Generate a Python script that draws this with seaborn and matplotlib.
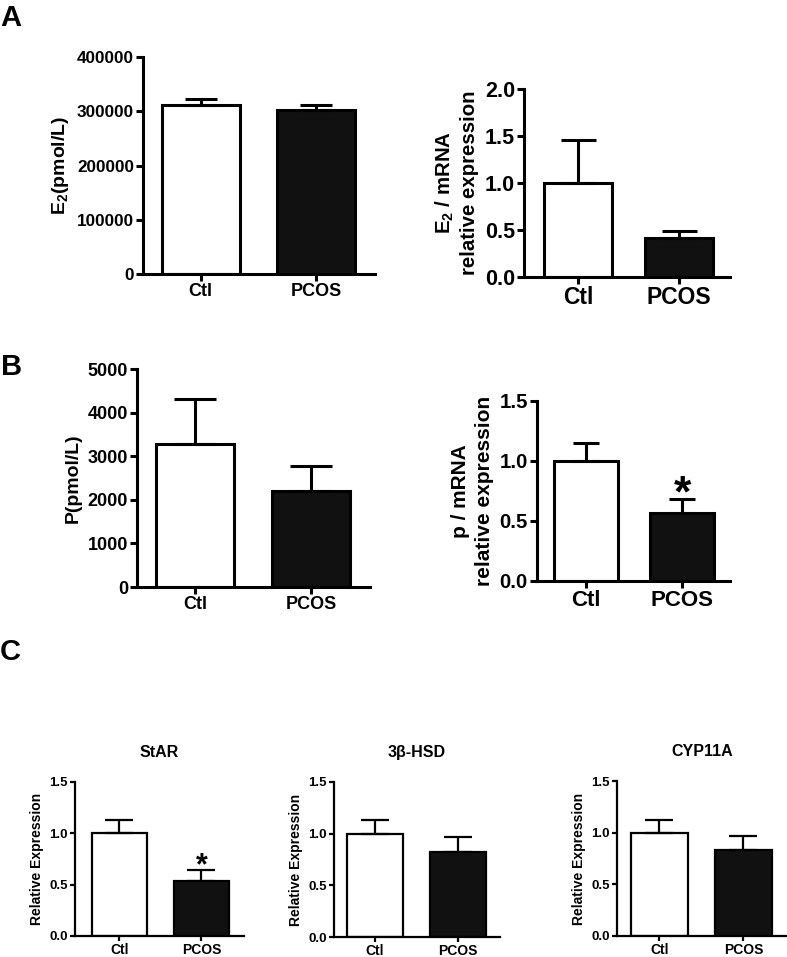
import matplotlib
matplotlib.use("Agg")
import matplotlib.pyplot as plt
import seaborn as sns
import numpy as np

# ---------------- data ----------------
groups = ["Ctl", "PCOS"]

e2_conc = [311000, 303000]
e2_conc_err = [11500, 9000]

e2_mrna = [1.0, 0.41]
e2_mrna_err = [0.46, 0.08]

p_conc = [3280, 2210]
p_conc_err = [1040, 560]

p_mrna = [1.0, 0.57]
p_mrna_err = [0.15, 0.11]

star_vals = [1.0, 0.54]
star_err = [0.13, 0.10]

hsd_vals = [1.0, 0.82]
hsd_err = [0.13, 0.15]

cyp_vals = [1.0, 0.83]
cyp_err = [0.12, 0.14]

# ---------------- style ----------------
sns.set_theme(style="ticks")
plt.rcParams["font.family"] = ["Liberation Sans", "DejaVu Sans"]
plt.rcParams["font.weight"] = "bold"
plt.rcParams["axes.labelweight"] = "bold"
plt.rcParams["text.color"] = "black"
plt.rcParams["axes.labelcolor"] = "black"
plt.rcParams["xtick.color"] = "black"
plt.rcParams["ytick.color"] = "black"
plt.rcParams["xtick.labelcolor"] = "black"
plt.rcParams["ytick.labelcolor"] = "black"
plt.rcParams["mathtext.fontset"] = "custom"
plt.rcParams["mathtext.rm"] = "Liberation Sans:bold"
plt.rcParams["mathtext.it"] = "Liberation Sans:bold"
plt.rcParams["mathtext.bf"] = "Liberation Sans:bold"
plt.rcParams["mathtext.default"] = "rm"

W, H = 787, 957
fig = plt.figure(figsize=(W / 100, H / 100), dpi=100)
fig.patch.set_facecolor("white")


def px_axes(x0, x1, y0, y1):
    return fig.add_axes([x0 / W, 1 - y1 / H, (x1 - x0) / W, (y1 - y0) / H])


def panel(ax, vals, errs, ymax, ystep, xlim, fmt, lw, tick_fs, xtick_fs,
          ylabel, ylabel_fs, capsize, ticklen, labelpad, linespacing=1.2,
          star=None):
    sns.barplot(x=groups, y=vals, hue=groups, palette=["white", "#111111"],
                edgecolor="black", linewidth=lw, width=0.675, errorbar=None,
                legend=False, ax=ax, saturation=1)
    xs = np.arange(len(groups))
    ax.errorbar(xs, vals, yerr=[np.zeros(len(vals)), errs], fmt="none",
                ecolor="black", elinewidth=lw, capsize=capsize, capthick=lw,
                zorder=1, clip_on=False)
    ax.set_ylim(0, ymax)
    ax.set_xlim(*xlim)
    ticks = np.arange(0, ymax + ystep / 2, ystep)
    ax.set_yticks(ticks)
    ax.set_yticklabels([fmt.format(t) for t in ticks], fontsize=tick_fs,
                       fontweight="bold", color="black")
    ax.set_xticks(xs)
    ax.set_xticklabels(groups, fontsize=xtick_fs, fontweight="bold",
                       color="black")
    for s in ["top", "right"]:
        ax.spines[s].set_visible(False)
    for s in ["left", "bottom"]:
        ax.spines[s].set_linewidth(lw)
        ax.spines[s].set_color("black")
    ax.tick_params(axis="both", length=ticklen, width=lw, color="black",
                   direction="out", pad=1.5)
    ax.set_xlabel("")
    ax.set_ylabel(ylabel, fontsize=ylabel_fs, fontweight="bold",
                  labelpad=labelpad, linespacing=linespacing, color="black")
    ax.set_facecolor("white")
    if star is not None:
        size, off = star
        ax.annotate("*", xy=(1, vals[1] + errs[1]), xytext=(0, off),
                    textcoords="offset points", ha="center", va="center",
                    fontsize=size, fontweight="bold", annotation_clip=False,
                    color="black")
    return ax


# Panel A
axA1 = px_axes(143, 375, 57, 274)
panel(axA1, e2_conc, e2_conc_err, 400000, 100000, (-0.50, 1.51), "{:.0f}",
      2.2, 12.3, 13, "E$_2$(pmol/L)", 14, 11.5, 5, 4)

axA2 = px_axes(524, 730, 89, 277)
panel(axA2, e2_mrna, e2_mrna_err, 2.0, 0.5, (-0.535, 1.505), "{:.1f}",
      2.2, 15.5, 16.5, "E$_2$ / mRNA\nrelative expression", 14.7, 12.6, 5, 4,
      linespacing=1.3)

# Panel B
axB1 = px_axes(137, 370, 369, 587)
panel(axB1, p_conc, p_conc_err, 5000, 1000, (-0.506, 1.51), "{:.0f}",
      2.2, 13, 13, "P(pmol/L)", 14, 14.8, 5, 4)

axB2 = px_axes(537, 730, 401, 581)
panel(axB2, p_mrna, p_mrna_err, 1.5, 0.5, (-0.51, 1.5), "{:.1f}",
      2.2, 14.7, 16, "p / mRNA\nrelative expression", 15, 9.7, 5, 4,
      linespacing=1.3, star=(32, 3))

# Panel C
titles_c = ["StAR", "3\u03b2-HSD", "CYP11A"]
c_vals = [star_vals, hsd_vals, cyp_vals]
c_errs = [star_err, hsd_err, cyp_err]
c_pos = [(75, 244, 782, 936), (334, 500, 782, 937), (617, 787, 781, 936)]
c_xlim = [(-0.54, 1.52), (-0.49, 1.5), (-0.506, 1.52)]
for i in range(3):
    ax = px_axes(*c_pos[i])
    panel(ax, c_vals[i], c_errs[i], 1.5, 0.5, c_xlim[i], "{:.1f}",
          1.6, 9.5, 10, "Relative Expression", 10, 10.4, 3.5, 4,
          star=(22, 3) if i == 0 else None)
    ax.set_title(titles_c[i], fontsize=11.5, fontweight="bold", pad=18,
                 color="black")

# Panel letters
fig.text(0 / W, 1 - 4 / H, "A", fontsize=21, fontweight="bold", va="top", ha="left")
fig.text(1 / W, 1 - 353 / H, "B", fontsize=21, fontweight="bold", va="top", ha="left")
fig.text(0 / W, 1 - 638 / H, "C", fontsize=21, fontweight="bold", va="top", ha="left")

fig.savefig("out.png", dpi=100, facecolor="white")
